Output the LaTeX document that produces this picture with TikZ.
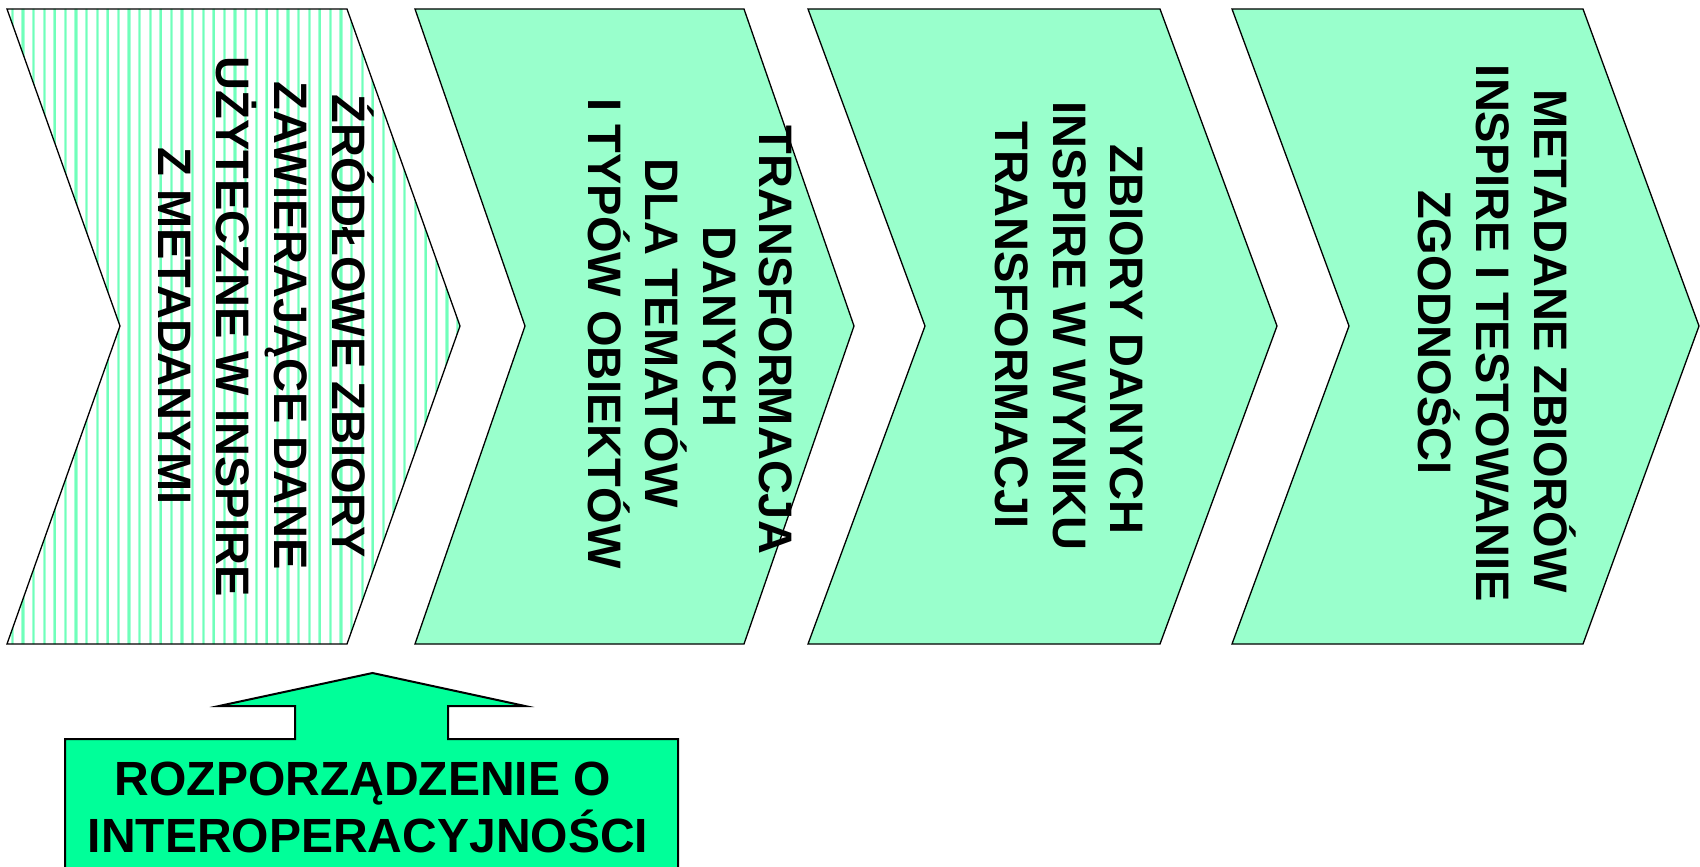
\documentclass[tikz,border=0pt]{standalone}
\usepackage{fontspec}
\setmainfont{Liberation Sans}
\definecolor{mint}{HTML}{99FFCC}
\definecolor{brightgreen}{HTML}{00FF99}
\definecolor{stripe}{HTML}{A8FFD6}
\definecolor{stripecore}{HTML}{70FFBA}
\tikzset{
  chev/.style={draw=black, line width=1.3pt, line join=miter},
  lbl/.style={font=\fontsize{47}{57}\selectfont\bfseries, inner sep=0pt, rotate=-90, anchor=base},
  boxlbl/.style={font=\fontsize{48}{57}\selectfont\bfseries, inner sep=0pt, anchor=base},
}
\begin{document}
\begin{tikzpicture}[x=1pt,y=-1pt]
\useasboundingbox (0,0) rectangle (1700,867);
\fill[white] (0,0) rectangle (1700,867);

% chevron 1 (striped)
\begin{scope}
  \clip (7,9) -- (347,9) -- (460,326) -- (347,644) -- (7,644) -- (120,326) -- cycle;
  \fill[white] (0,0) rectangle (470,650);
  \foreach \x in {1.8,12.4,...,465} {
    \draw[stripe, line width=3.2pt] (\x,0) -- (\x,650);
    \draw[stripecore, line width=1.4pt] (\x,0) -- (\x,650);
  }
\end{scope}
\draw[chev] (7,9) -- (347,9) -- (460,326) -- (347,644) -- (7,644) -- (120,326) -- cycle;

% chevrons 2-4
\filldraw[chev, fill=mint] (415,9) -- (744,9) -- (854,326) -- (744,644) -- (415,644) -- (525,326) -- cycle;
\filldraw[chev, fill=mint] (808,9) -- (1160,9) -- (1277,326) -- (1160,644) -- (808,644) -- (925,326) -- cycle;
\filldraw[chev, fill=mint] (1232,9) -- (1583,9) -- (1699,326) -- (1583,644) -- (1232,644) -- (1349,326) -- cycle;

% texts chevron 1
\node[lbl] (c1a) at (332,326) {ŹRÓDŁOWE ZBIORY};
\node[lbl] (c1b) at (274,326) {ZAWIERAJĄCE DANE};
\node[lbl] (c1c) at (216,327) {UŻYTECZNE W INSPIRE};
\node[lbl] (c1d) at (158,326) {Z METADANYMI};

% texts chevron 2
\node[lbl] (c2a) at (759,340) {TRANSFORMACJA};
\node[lbl] (c2b) at (703,327) {DANYCH};
\node[lbl] (c2c) at (645.5,333) {DLA TEMATÓW};
\node[lbl] (c2d) at (588,333.5) {I TYPÓW OBIEKTÓW};

% texts chevron 3
\node[lbl] (c3a) at (1110,339.5) {ZBIORY DANYCH};
\node[lbl] (c3b) at (1053,326) {INSPIRE W WYNIKU};
\node[lbl] (c3c) at (995,325) {TRANSFORMACJI};

% texts chevron 4
\node[lbl] (c4a) at (1534,341) {METADANE ZBIORÓW};
\node[lbl] (c4b) at (1476,333.5) {INSPIRE I TESTOWANIE};
\node[lbl] (c4c) at (1418,332.5) {ZGODNOŚCI};

% arrow + box
\fill[brightgreen] (65,875) -- (65,739) -- (295,739) -- (295,706) -- (219,706) -- (372.5,673)
  -- (525,706) -- (448,706) -- (448,739) -- (678,739) -- (678,875) -- cycle;
\draw[black, line width=2pt, line join=miter] (65,875) -- (65,739) -- (295,739) -- (295,706) -- (219,706) -- (372.5,673)
  -- (525,706) -- (448,706) -- (448,739) -- (678,739) -- (678,875);

\node[boxlbl] (r1) at (363,795) {ROZPORZĄDZENIE O};
\node[boxlbl] (r2) at (368,852) {INTEROPERACYJNOŚCI};
\end{tikzpicture}
\end{document}
